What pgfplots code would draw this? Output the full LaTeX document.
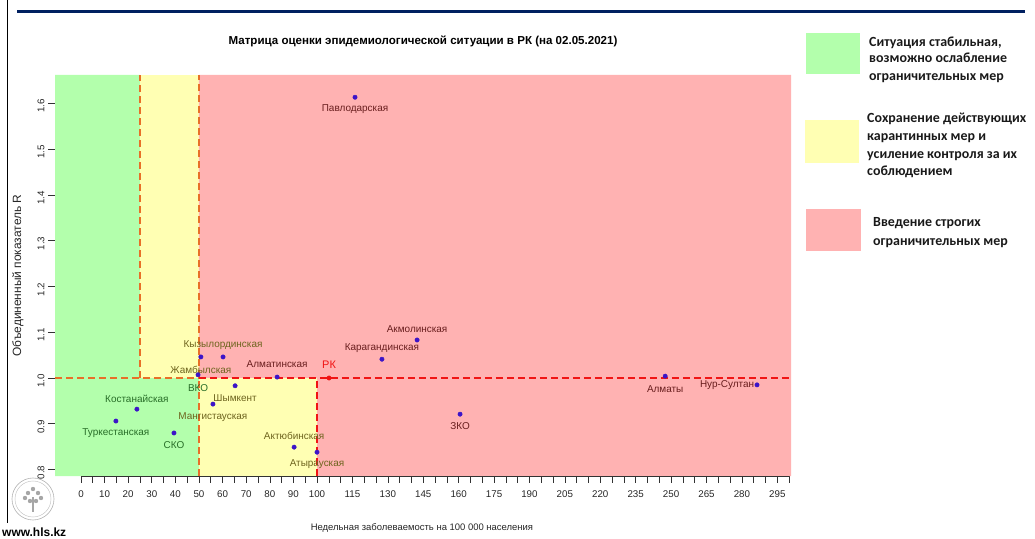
\documentclass[border=0pt]{standalone}
\usepackage{pgfplots}
\pgfplotsset{compat=1.18}
\usepackage{pgfplotstable}
\usepackage{fontspec}
\setmainfont{Liberation Sans}
\newfontfamily\carlito{Carlito}

\definecolor{rgreen}{RGB}{179,255,172}
\definecolor{ryellow}{RGB}{255,255,179}
\definecolor{rred}{RGB}{255,178,178}
\definecolor{dorange}{RGB}{232,112,40}
\definecolor{dred}{RGB}{240,20,20}
\definecolor{ptblue}{RGB}{60,20,200}
\definecolor{lblgreen}{RGB}{40,110,40}
\definecolor{lblolive}{RGB}{110,100,30}
\definecolor{lblred}{RGB}{105,30,30}
\definecolor{navyline}{RGB}{0,32,96}
\definecolor{legtext}{RGB}{25,25,25}

% labels in dark red
\pgfplotstableread[col sep=comma]{
x,y,name,dx,dy
116.1,1.613,Павлодарская,0,-12
142.4,1.083,Акмолинская,0,11
127.5,1.041,Карагандинская,0,11
160.6,0.921,ЗКО,0,-12
83.1,1.002,Алматинская,0,13
247.5,1.004,Алматы,0,-13
286.4,0.985,Нур-Султан,-30,0
}\redlab
% labels in olive
\pgfplotstableread[col sep=comma]{
x,y,name,dx,dy
100.0,0.838,Атырауская,0,-12
90.3,0.849,Актюбинская,0,11
60.2,1.046,Кызылординская,0,12
50.8,1.046,Жамбылская,0,-13
65.3,0.983,Шымкент,0,-12
55.9,0.943,Мангистауская,0,-13
}\olivelab
% labels in dark green
\pgfplotstableread[col sep=comma]{
x,y,name,dx,dy
49.6,1.007,ВКО,0,-13
23.7,0.932,Костанайская,0,10
14.8,0.906,Туркестанская,0,-12
39.4,0.880,СКО,0,-12
}\greenlab

\newcommand{\labfont}{\fontsize{10}{12}\selectfont}
\newcommand{\legfont}{\carlito\bfseries\fontsize{14}{17}\selectfont}

\pgfplotsset{
  regionpts/.style={only marks, mark=*, mark size=2.2bp, ptblue,
    point meta=explicit symbolic, nodes near coords,
    visualization depends on={\thisrow{dx}\as\mydx},
    visualization depends on={\thisrow{dy}\as\mydy},
    every node near coord/.append style={anchor=center, xshift=\mydx, yshift=\mydy, text=#1, font=\labfont, inner sep=0pt}},
}

\begin{document}
\begin{tikzpicture}
\useasboundingbox (0,0) rectangle (1035bp,539bp);
% slide decorations
\draw[navyline, line width=3bp] (17bp,527.5bp) -- (1025bp,527.5bp);
\draw[black, line width=1bp] (7.5bp,539bp) -- (7.5bp,16bp);
\node[anchor=base west, inner sep=0pt, font=\bfseries\fontsize{12}{14}\selectfont] at (2bp,3bp) {www.hls.kz};
% simple logo
\draw[gray!60, line width=0.6bp] (33bp,40bp) circle (21bp);
\draw[gray!45, line width=0.5bp] (33bp,40bp) circle (18bp);
\draw[gray!70, line width=1.2bp] (33bp,27bp) -- (33bp,42bp);
\foreach \a/\b in {28/46, 33/50, 38/46, 25/41, 41/41, 30/38, 36/38}
  \fill[gray!70] (\a bp,\b bp) circle (2.2bp);

\begin{axis}[
  at={(55bp,63bp)}, anchor=south west,
  scale only axis, width=736bp, height=401bp,
  xmin=-11, xmax=300.8, ymin=0.786, ymax=1.6616,
  axis line style={draw=none},
  tick align=outside, tick pos=left,
  xtick={0,10,20,30,40,50,60,70,80,90,100,115,130,145,160,175,190,205,220,235,250,265,280,295},
  xticklabels={0,10,20,30,40,50,60,70,80,90,100,115,130,145,160,175,190,205,220,235,250,265,280,295},
  minor xtick={0,5,...,300},
  ytick={0.8,0.9,1.0,1.1,1.2,1.3,1.4,1.5,1.6},
  yticklabels={0.8,0.9,1.0,1.1,1.2,1.3,1.4,1.5,1.6},
  major tick length=7bp, minor tick length=7bp,
  every tick/.style={black!80, line width=0.6bp},
  xticklabel style={font=\fontsize{9.8}{11}\selectfont, text=black!85, yshift=-4bp},
  yticklabel style={rotate=90, anchor=south, font=\fontsize{9.8}{11}\selectfont, text=black!85, xshift=-3bp},
  xlabel={Недельная заболеваемость на 100 000 населения},
  xlabel style={at={(axis description cs:0.4986,-0.13)}, anchor=center, font=\fontsize{9.5}{11}\selectfont, text=black!85},
  ylabel={Объединенный показатель R},
  ylabel style={at={(axis description cs:-0.0503,0.5)}, anchor=center, rotate=0, font=\fontsize{12}{14}\selectfont, text=black!85},
  title={Матрица оценки эпидемиологической ситуации в РК (на 02.05.2021)},
  title style={at={(axis description cs:0.5,1.0698)}, anchor=center, font=\bfseries\fontsize{11.6}{13}\selectfont},
  clip=false,
]
% regions
\addplot[fill=rgreen, draw=none] coordinates {(-11,0.786) (50,0.786) (50,1) (25,1) (25,1.6616) (-11,1.6616)} -- cycle;
\addplot[fill=ryellow, draw=none] coordinates {(25,1) (50,1) (50,1.6616) (25,1.6616)} -- cycle;
\addplot[fill=ryellow, draw=none] coordinates {(50,0.786) (100,0.786) (100,1) (50,1)} -- cycle;
\addplot[fill=rred, draw=none] coordinates {(50,1) (50,1.6616) (300.8,1.6616) (300.8,0.786) (100,0.786) (100,1)} -- cycle;
% threshold lines
\addplot[dred, line width=1.8bp, dash pattern=on 7bp off 4bp] coordinates {(50,1) (300.8,1)};
\addplot[dred, line width=1.8bp, dash pattern=on 7bp off 4bp] coordinates {(100,0.786) (100,1)};
\addplot[dorange, line width=1.8bp, dash pattern=on 7bp off 4bp] coordinates {(-11,1) (50,1)};
\addplot[dorange, line width=1.8bp, dash pattern=on 7bp off 4bp] coordinates {(25,1) (25,1.6616)};
\addplot[dorange, line width=1.8bp, dash pattern=on 7bp off 4bp] coordinates {(50,0.786) (50,1.6616)};
% x axis line
\draw[black!80, line width=0.6bp] (axis cs:0,0.786) -- (axis cs:300,0.786);
% regions points
\addplot[regionpts=lblred] table[x=x, y=y, meta=name] {\redlab};
\addplot[regionpts=lblolive] table[x=x, y=y, meta=name] {\olivelab};
\addplot[regionpts=lblgreen] table[x=x, y=y, meta=name] {\greenlab};
% Kazakhstan overall
\addplot[only marks, mark=*, mark size=2.2bp, dred,
  nodes near coords={РК},
  every node near coord/.append style={anchor=center, yshift=13, text=dred, font=\fontsize{11}{13}\selectfont, inner sep=0pt}]
  coordinates {(105.1,1.0)};
\end{axis}

% legend
\fill[rgreen] (806bp,465bp) rectangle (860bp,506bp);
\fill[ryellow] (805bp,376bp) rectangle (859bp,419bp);
\fill[rred] (806bp,288bp) rectangle (861bp,330bp);
\begin{scope}[every node/.style={anchor=base west, inner sep=0pt, font=\legfont, text=legtext}]
\node at (869bp,492bp) {Ситуация стабильная,};
\node at (869bp,476bp) {возможно ослабление};
\node at (869bp,458bp) {ограничительных мер};
\node at (867bp,416bp) {Сохранение действующих};
\node at (867bp,398bp) {карантинных мер и};
\node at (867bp,380bp) {усиление контроля за их};
\node at (867bp,363bp) {соблюдением};
\node at (873bp,312bp) {Введение строгих};
\node at (873bp,293bp) {ограничительных мер};
\end{scope}
\end{tikzpicture}
\end{document}
